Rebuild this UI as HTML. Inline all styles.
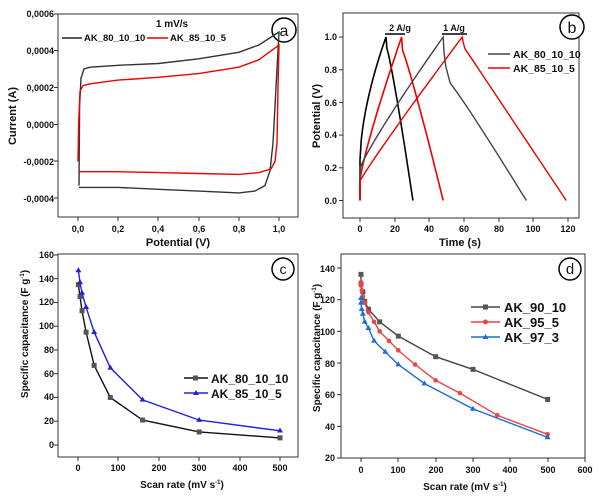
<!DOCTYPE html><html><head><meta charset="utf-8"><style>body{margin:0;background:#fff}svg{display:block;font-family:"Liberation Sans",sans-serif;font-weight:bold}</style></head><body>
<svg id="s" width="600" height="497" xmlns="http://www.w3.org/2000/svg">
<g font-size="9" fill="#111">
<rect x="58" y="14" width="240" height="203" fill="none" stroke="#333" stroke-width="1"/>
<text x="54" y="17" text-anchor="end">0,0006</text><text x="54" y="54" text-anchor="end">0,0004</text><text x="54" y="91" text-anchor="end">0,0002</text><text x="54" y="128" text-anchor="end">0,0000</text><text x="54" y="165" text-anchor="end">-0,0002</text><text x="54" y="202" text-anchor="end">-0,0004</text>
<text x="78" y="232" text-anchor="middle">0,0</text><text x="118" y="232" text-anchor="middle">0,2</text><text x="158" y="232" text-anchor="middle">0,4</text><text x="199" y="232" text-anchor="middle">0,6</text><text x="239" y="232" text-anchor="middle">0,8</text><text x="279" y="232" text-anchor="middle">1,0</text>
<text x="178" y="246" text-anchor="middle" font-size="11">Potential (V)</text>
<text transform="translate(16,116) rotate(-90)" text-anchor="middle" font-size="11">Current (A)</text>
<text x="172" y="27" text-anchor="middle" font-size="10">1 mV/s</text>
<line x1="62" y1="38" x2="82" y2="38" stroke="#222" stroke-width="1.5"/><text x="84" y="41" font-size="9.5">AK_80_10_10</text>
<line x1="147" y1="38" x2="168" y2="38" stroke="#e00" stroke-width="1.5"/><text x="170" y="41" font-size="9.5">AK_85_10_5</text>
<circle cx="284" cy="30" r="12" fill="#fff" stroke="#000" stroke-width="1.5"/><text x="284" y="36" text-anchor="middle" font-size="16" font-weight="normal">a</text>
<rect x="343" y="13" width="236" height="205" fill="none" stroke="#333"/>
<text x="337" y="40" text-anchor="end">1.0</text><text x="337" y="73" text-anchor="end">0.8</text><text x="337" y="106" text-anchor="end">0.6</text><text x="337" y="138" text-anchor="end">0.4</text><text x="337" y="171" text-anchor="end">0.2</text><text x="337" y="204" text-anchor="end">0.0</text>
<text x="360" y="232" text-anchor="middle">0</text><text x="395" y="232" text-anchor="middle">20</text><text x="429" y="232" text-anchor="middle">40</text><text x="464" y="232" text-anchor="middle">60</text><text x="499" y="232" text-anchor="middle">80</text><text x="533" y="232" text-anchor="middle">100</text><text x="568" y="232" text-anchor="middle">120</text>
<text x="460" y="246" text-anchor="middle" font-size="11">Time (s)</text>
<text transform="translate(320,116) rotate(-90)" text-anchor="middle" font-size="11">Potential (V)</text>
<text x="400" y="31" text-anchor="middle">2 A/g</text><line x1="385" y1="34" x2="405" y2="34" stroke="#000" stroke-width="1.5"/>
<text x="454" y="31" text-anchor="middle">1 A/g</text><line x1="442" y1="34" x2="467" y2="34" stroke="#000" stroke-width="1.5"/>
<line x1="488" y1="54" x2="510" y2="54" stroke="#444" stroke-width="1.5"/><text x="513" y="58" font-size="10.5">AK_80_10_10</text>
<line x1="488" y1="68" x2="510" y2="68" stroke="#e00" stroke-width="1.5"/><text x="513" y="72" font-size="10.5">AK_85_10_5</text>
<circle cx="572" cy="27" r="12" fill="#fff" stroke="#000" stroke-width="1.5"/><text x="572" y="33" text-anchor="middle" font-size="16" font-weight="normal">b</text>
<rect x="58" y="254" width="240" height="203" fill="none" stroke="#333"/>
<text x="54" y="258" text-anchor="end">160</text><text x="54" y="282" text-anchor="end">140</text><text x="54" y="305" text-anchor="end">120</text><text x="54" y="329" text-anchor="end">100</text><text x="54" y="353" text-anchor="end">80</text><text x="54" y="377" text-anchor="end">60</text><text x="54" y="400" text-anchor="end">40</text><text x="54" y="424" text-anchor="end">20</text><text x="54" y="448" text-anchor="end">0</text>
<text x="78" y="471" text-anchor="middle">0</text><text x="118" y="471" text-anchor="middle">100</text><text x="159" y="471" text-anchor="middle">200</text><text x="199" y="471" text-anchor="middle">300</text><text x="240" y="471" text-anchor="middle">400</text><text x="280" y="471" text-anchor="middle">500</text>
<text x="182" y="488" text-anchor="middle" font-size="10">Scan rate (mV s<tspan font-size="6" dy="-4">-1</tspan><tspan dy="4">)</tspan></text>
<text transform="translate(28,334) rotate(-90)" text-anchor="middle" font-size="10">Specific capacitance (F g<tspan font-size="6" dy="-4">-1</tspan><tspan dy="4">)</tspan></text>
<line x1="184" y1="378" x2="208" y2="378" stroke="#111" stroke-width="1.5"/><rect x="193" y="375.5" width="5" height="5" fill="#555"/><text x="211" y="383" font-size="12">AK_80_10_10</text>
<line x1="184" y1="393" x2="208" y2="393" stroke="#22d" stroke-width="1.5"/><path d="M196,390 l3,5 h-6z" fill="#22d"/><text x="211" y="398" font-size="12">AK_85_10_5</text>
<circle cx="283" cy="269" r="11" fill="#fff" stroke="#000" stroke-width="1.5"/><text x="283" y="274" text-anchor="middle" font-size="14" font-weight="normal">c</text>
<rect x="341" y="254" width="244" height="204" fill="none" stroke="#333"/>
<text x="335" y="272" text-anchor="end">140</text><text x="335" y="303" text-anchor="end">120</text><text x="335" y="335" text-anchor="end">100</text><text x="335" y="367" text-anchor="end">80</text><text x="335" y="398" text-anchor="end">60</text><text x="335" y="430" text-anchor="end">40</text><text x="335" y="461" text-anchor="end">20</text>
<text x="361" y="473" text-anchor="middle">0</text><text x="398" y="473" text-anchor="middle">100</text><text x="436" y="473" text-anchor="middle">200</text><text x="473" y="473" text-anchor="middle">300</text><text x="510" y="473" text-anchor="middle">400</text><text x="548" y="473" text-anchor="middle">500</text><text x="585" y="473" text-anchor="middle">600</text>
<text x="465" y="490" text-anchor="middle" font-size="10">Scan rate (mV s<tspan font-size="6" dy="-4">-1</tspan><tspan dy="4">)</tspan></text>
<text transform="translate(320,348) rotate(-90)" text-anchor="middle" font-size="10">Specific capacitance (F g<tspan font-size="6" dy="-4">-1</tspan><tspan dy="4">)</tspan></text>
<line x1="471" y1="307" x2="500" y2="307" stroke="#444" stroke-width="1.5"/><rect x="483" y="304.5" width="5" height="5" fill="#555"/><text x="504" y="312" font-size="13">AK_90_10</text>
<line x1="471" y1="322" x2="500" y2="322" stroke="#e44" stroke-width="1.5"/><circle cx="485.5" cy="322" r="2.5" fill="#e44"/><text x="504" y="327" font-size="13">AK_95_5</text>
<line x1="471" y1="337" x2="500" y2="337" stroke="#1a6fd0" stroke-width="1.5"/><path d="M485.5,334 l3,5 h-6z" fill="#1a6fd0"/><text x="504" y="342" font-size="13">AK_97_3</text>
<circle cx="570" cy="269" r="11" fill="#fff" stroke="#000" stroke-width="1.5"/><text x="570" y="274" text-anchor="middle" font-size="15" font-weight="normal">d</text>
</g>
<g id="t" stroke="#333" stroke-width="1"></g>
<g id="g" fill="none" stroke-width="1.4"></g>
</svg>
<script>
var g=document.getElementById('g'),tg=document.getElementById('t'),NS='http://www.w3.org/2000/svg';
function L(x1,y1,x2,y2){var e=document.createElementNS(NS,'line');e.setAttribute('x1',x1);e.setAttribute('y1',y1);e.setAttribute('x2',x2);e.setAttribute('y2',y2);tg.appendChild(e);}
function TX(xs,yb){xs.forEach(function(x){L(x,yb,x,yb+4);});}
function TY(ys,xl){ys.forEach(function(y){L(xl,y,xl-4,y);});}
TX([78,118,158,199,239,279],217);TY([14,50.5,87.5,124.5,161,198],58);
TX([360,395,429,464,499,533,568],218);TY([37,69.7,102.4,135.1,167.8,200.5],343);
TX([78,118,159,199,240,280],457);TY([255,278.7,302.5,326.2,350,373.7,397.5,421.2,445],58);
TX([361,398,436,473,510,548,585],458);TY([268,299.7,331.3,363,394.7,426.3,458],341);
function P(pts,fx,fy,col,w){var d=pts.map(function(p,i){return(i?'L':'M')+fx(p[0]).toFixed(1)+','+fy(p[1]).toFixed(1)}).join('');var e=document.createElementNS(NS,'path');e.setAttribute('d',d);e.setAttribute('stroke',col);if(w)e.setAttribute('stroke-width',w);g.appendChild(e);}
function M(pts,fx,fy,col,t){pts.forEach(function(p){var x=fx(p[0]),y=fy(p[1]),e;if(t=='s'){e=document.createElementNS(NS,'rect');e.setAttribute('x',x-2.5);e.setAttribute('y',y-2.5);e.setAttribute('width',5);e.setAttribute('height',5);}else if(t=='c'){e=document.createElementNS(NS,'circle');e.setAttribute('cx',x);e.setAttribute('cy',y);e.setAttribute('r',2.3);}else{e=document.createElementNS(NS,'path');e.setAttribute('d','M'+x+','+(y-3.2)+'l3,5h-6z');}e.setAttribute('fill',col);e.setAttribute('stroke','none');g.appendChild(e);});}
var ax=function(v){return 78+v*201},ay=function(i){return 124.5-i*185000};
var bk=[[0.005,-0.00033],[0.008,0.0001],[0.015,0.00025],[0.03,0.0003],[0.06,0.00031],[0.2,0.00032],[0.4,0.00033],[0.6,0.000355],[0.8,0.00039],[0.9,0.00043],[1.0,0.0005],[0.985,0.0002],[0.97,-0.0001],[0.955,-0.00025],[0.93,-0.00033],[0.88,-0.00036],[0.8,-0.00037],[0.6,-0.00036],[0.4,-0.00035],[0.2,-0.00034],[0.005,-0.00034]];
var rd=[[0.0,-0.0002],[0.003,0.0],[0.01,0.00018],[0.025,0.00021],[0.06,0.00022],[0.2,0.00024],[0.4,0.000255],[0.6,0.000275],[0.8,0.00031],[0.9,0.00035],[1.0,0.00043],[0.995,0.0002],[0.99,-0.0001],[0.98,-0.0002],[0.96,-0.00024],[0.9,-0.00026],[0.8,-0.00027],[0.6,-0.000265],[0.4,-0.00026],[0.2,-0.000255],[0.005,-0.000255]];
P(bk,ax,ay,'#333');P(rd,ax,ay,'#e00');
var bx=function(t){return 360+t*1.733},by=function(v){return 200.5-v*163.5};
function ch(t0,v0,T,p){var a=[[0,0]];for(var i=0;i<=20;i++){var f=i/20;a.push([T*f,v0+(1-v0)*Math.pow(f,p)]);}return a;}
function dis(T,dv,E,p){var a=[[T,1]];var v1=1-dv;for(var i=0;i<=20;i++){var f=i/20;a.push([T+0.5+(E-T-0.5)*f,v1*(1-Math.pow(f,p))]);}return a;}
P(ch(0,0.25,15,0.6).concat(dis(15,0.07,30.5,1.15)),bx,by,'#000',1.6);
P(ch(0,0.13,24,0.85).concat(dis(24,0.08,48,1.1)),bx,by,'#e00',1.6);
var k=ch(0,0.2,48,0.9);k=k.concat([[48.5,0.9],[49.5,0.82],[52,0.72]]);for(var i=1;i<=10;i++){var f=i/10;k.push([52+44*f,0.72*(1-Math.pow(f,1.05))]);}P(k,bx,by,'#444',1.4);
var r=ch(0,0.12,59,0.95);r=r.concat([[59.5,0.97],[60.5,0.93]]);for(var i=1;i<=10;i++){var f=i/10;r.push([60.5+58.5*f,0.93*(1-f)]);}P(r,bx,by,'#e00',1.4);
var cx=function(x){return 78+x*0.404},cy=function(y){return 445-y*1.1875};
var c1=[[1,135],[5,125],[10,113],[20,95],[40,67],[80,40],[160,21],[300,11],[500,6]];
var c2=[[1,147],[5,137],[10,128],[20,116],[40,95],[80,65],[160,38],[300,21],[500,12]];
P(c1,cx,cy,'#111');M(c1,cx,cy,'#555','s');P(c2,cx,cy,'#22d');M(c2,cx,cy,'#22d','t');
var dx=function(x){return 361+x*0.3733},dy=function(y){return 458-(y-20)*1.583};
var d1=[[0,136],[0,130],[5,125],[10,119],[20,114],[50,106],[100,97],[200,84],[300,76],[500,57]];
var d2=[[0,131],[0,129],[2,126],[5,122],[10,118],[20,112],[35,106],[50,100],[75,94],[100,88],[145,79],[200,69],[265,61],[365,47],[500,35]];
var d3=[[0,121],[0,118],[2,114],[5,111],[10,106],[20,102],[35,94],[65,87],[100,79],[170,67],[300,51],[500,33]];
P(d1,dx,dy,'#444');M(d1,dx,dy,'#555','s');P(d2,dx,dy,'#e44');M(d2,dx,dy,'#e44','c');P(d3,dx,dy,'#1a6fd0');M(d3,dx,dy,'#1a6fd0','t');
</script>
</body></html>
